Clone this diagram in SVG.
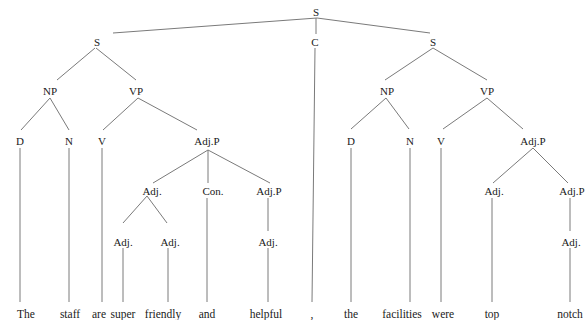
<svg xmlns="http://www.w3.org/2000/svg" width="587" height="320" viewBox="0 0 587 320">
<style>
text{font-family:"Liberation Serif","Tinos","DejaVu Serif",serif;font-size:11px;fill:#1a1a1a;text-anchor:middle}
.w{font-size:11.5px}
line{stroke:#7a7a7a;stroke-width:1}
</style>
<rect width="587" height="320" fill="#fff"/>
<g id="connectors">
<line x1="317" y1="18" x2="113" y2="33"/>
<line x1="317" y1="18" x2="430" y2="33"/>
<line x1="316" y1="18" x2="316" y2="34"/>
<line x1="315" y1="48" x2="312" y2="302"/>
<line x1="95" y1="48" x2="57" y2="80"/>
<line x1="96" y1="48" x2="136" y2="80"/>
<line x1="50" y1="98" x2="21" y2="130"/>
<line x1="50" y1="98" x2="69" y2="130"/>
<line x1="138" y1="98" x2="103" y2="130"/>
<line x1="138" y1="98" x2="197" y2="130"/>
<line x1="20" y1="148" x2="20" y2="302"/>
<line x1="69" y1="148" x2="69" y2="302"/>
<line x1="102" y1="148" x2="102" y2="302"/>
<line x1="208" y1="150" x2="153" y2="183"/>
<line x1="208" y1="150" x2="208" y2="183"/>
<line x1="208" y1="150" x2="270" y2="183"/>
<line x1="147" y1="196" x2="123" y2="223"/>
<line x1="147" y1="196" x2="167" y2="223"/>
<line x1="123" y1="248" x2="123" y2="302"/>
<line x1="168" y1="248" x2="168" y2="302"/>
<line x1="207" y1="198" x2="207" y2="302"/>
<line x1="268" y1="198" x2="268" y2="231"/>
<line x1="268" y1="248" x2="268" y2="302"/>
<line x1="433" y1="48" x2="385" y2="80"/>
<line x1="433" y1="48" x2="487" y2="80"/>
<line x1="386" y1="98" x2="351" y2="129"/>
<line x1="386" y1="98" x2="409" y2="129"/>
<line x1="487" y1="98" x2="443" y2="129"/>
<line x1="487" y1="98" x2="523" y2="129"/>
<line x1="351" y1="148" x2="351" y2="302"/>
<line x1="410" y1="148" x2="410" y2="302"/>
<line x1="441" y1="148" x2="441" y2="302"/>
<line x1="533" y1="148" x2="493" y2="183"/>
<line x1="533" y1="148" x2="568" y2="183"/>
<line x1="492" y1="198" x2="492" y2="302"/>
<line x1="570" y1="198" x2="570" y2="231"/>
<line x1="570" y1="248" x2="570" y2="302"/>
</g>
<g id="n-S-root"><text x="316" y="16">S</text></g>
<g id="n-S1"><text x="97" y="46">S</text></g>
<g id="n-C"><text x="315" y="46">C</text></g>
<g id="n-S2"><text x="433" y="46">S</text></g>
<g id="n-NP1"><text x="50" y="95">NP</text></g>
<g id="n-VP1"><text x="136" y="95">VP</text></g>
<g id="n-NP2"><text x="387" y="95">NP</text></g>
<g id="n-VP2"><text x="487" y="95">VP</text></g>
<g id="n-D1"><text x="20" y="145">D</text></g>
<g id="n-N1"><text x="69" y="145">N</text></g>
<g id="n-V1"><text x="102" y="145">V</text></g>
<g id="n-AdjP1"><text x="207" y="145">Adj.P</text></g>
<g id="n-D2"><text x="351" y="145">D</text></g>
<g id="n-N2"><text x="410" y="145">N</text></g>
<g id="n-V2"><text x="441" y="145">V</text></g>
<g id="n-AdjP2"><text x="533" y="145">Adj.P</text></g>
<g id="n-Adj1"><text x="152" y="195">Adj.</text></g>
<g id="n-Con"><text x="213" y="195">Con.</text></g>
<g id="n-AdjP3"><text x="269" y="195">Adj.P</text></g>
<g id="n-Adj5"><text x="494" y="195">Adj.</text></g>
<g id="n-AdjP4"><text x="572" y="195">Adj.P</text></g>
<g id="n-Adj2"><text x="123" y="246">Adj.</text></g>
<g id="n-Adj3"><text x="170" y="246">Adj.</text></g>
<g id="n-Adj4"><text x="268" y="246">Adj.</text></g>
<g id="n-Adj6"><text x="571" y="246">Adj.</text></g>
<g id="words">
<text class="w" x="26" y="318">The</text>
<text class="w" x="70" y="318">staff</text>
<text class="w" x="99" y="318">are</text>
<text class="w" x="123" y="318">super</text>
<text class="w" x="163" y="318">friendly</text>
<text class="w" x="207" y="318">and</text>
<text class="w" x="266" y="318">helpful</text>
<text class="w" x="312" y="318">,</text>
<text class="w" x="351" y="318">the</text>
<text class="w" x="402" y="318">facilities</text>
<text class="w" x="443" y="318">were</text>
<text class="w" x="492" y="318">top</text>
<text class="w" x="570" y="318">notch</text>
</g>
</svg>
